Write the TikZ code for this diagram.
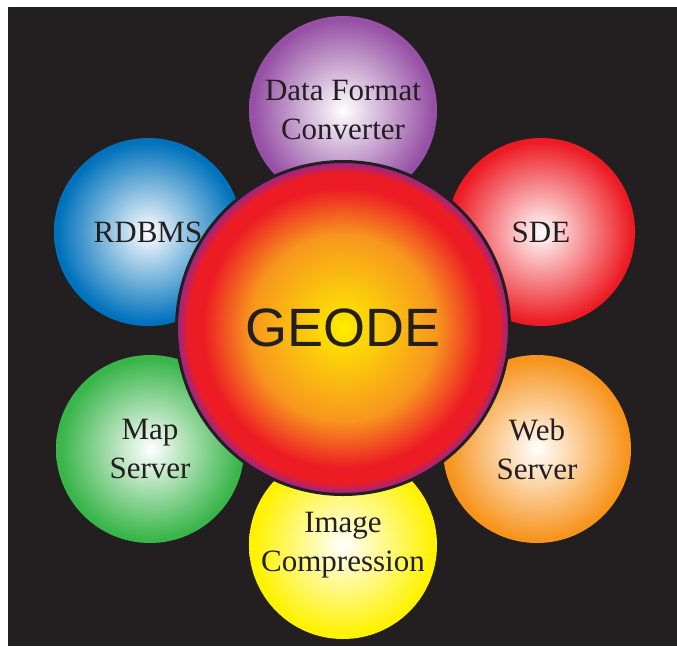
\documentclass[tikz,border=0pt]{standalone}
\usepackage{fontspec}
\setmainfont{Liberation Serif}
\newfontfamily\geodefont{Liberation Sans}

\definecolor{bgblack}{RGB}{35,31,32}
\definecolor{petalpurple}{RGB}{150,80,165}
\definecolor{petalblue}{RGB}{0,114,188}
\definecolor{petalred}{RGB}{237,28,36}
\definecolor{petalgreen}{RGB}{57,181,74}
\definecolor{petalorange}{RGB}{247,148,29}
\definecolor{petalyellow}{RGB}{255,242,0}
\definecolor{geodeyellow}{RGB}{255,236,0}
\definecolor{geodeorange}{RGB}{247,150,30}
\definecolor{geodered}{RGB}{237,28,36}
\definecolor{geodepurple}{RGB}{146,39,143}
\colorlet{petalcol}{petalblue}

\pgfdeclareradialshading[petalcol]{petalshade}{\pgfpoint{0bp}{0bp}}{color(0bp)=(white); color(24bp)=(petalcol); color(25bp)=(petalcol); color(50bp)=(petalcol)}
\pgfdeclareradialshading{geodeshade}{\pgfpoint{0bp}{0bp}}{color(0bp)=(geodeyellow); color(14bp)=(geodeorange); color(21bp)=(geodered); color(23.3bp)=(geodered); color(25bp)=(geodepurple); color(50bp)=(geodepurple)}

\tikzset{
  set petal/.code={\colorlet{petalcol}{#1}},
  petal/.style={circle, minimum size=188pt, inner sep=0pt, set petal=#1, shade, shading=petalshade,
    text=bgblack, align=center, font=\fontsize{31}{39}\selectfont},
  hub/.style={circle, minimum size=333pt, inner sep=0pt, shade, shading=geodeshade,
    draw=bgblack, line width=3pt, text=bgblack, font=\geodefont\fontsize{54}{60}\selectfont}
}

\begin{document}
\begin{tikzpicture}[x=1pt, y=-1pt]
  \useasboundingbox (0,0) rectangle (677,646);
  \fill[white] (0,0) rectangle (677,646);
  \fill[bgblack] (8,7) rectangle (677,646);

  % outer ring
  \node[petal=petalpurple] (converter) at (343,110) {Data Format\\Converter};
  \node[petal=petalblue]   (rdbms)     at (148,232) {RDBMS};
  \node[petal=petalred]    (sde)       at (541,232) {SDE};
  \node[petal=petalgreen]  (mapserver) at (150,449) {Map\\Server};
  \node[petal=petalorange] (webserver) at (537,449) {Web\\Server};
  \node[petal=petalyellow] (compress)  at (343,545) {Image\\Compression};

  % centre
  \node[hub] (geode) at (343,328) {GEODE};
\end{tikzpicture}
\end{document}
